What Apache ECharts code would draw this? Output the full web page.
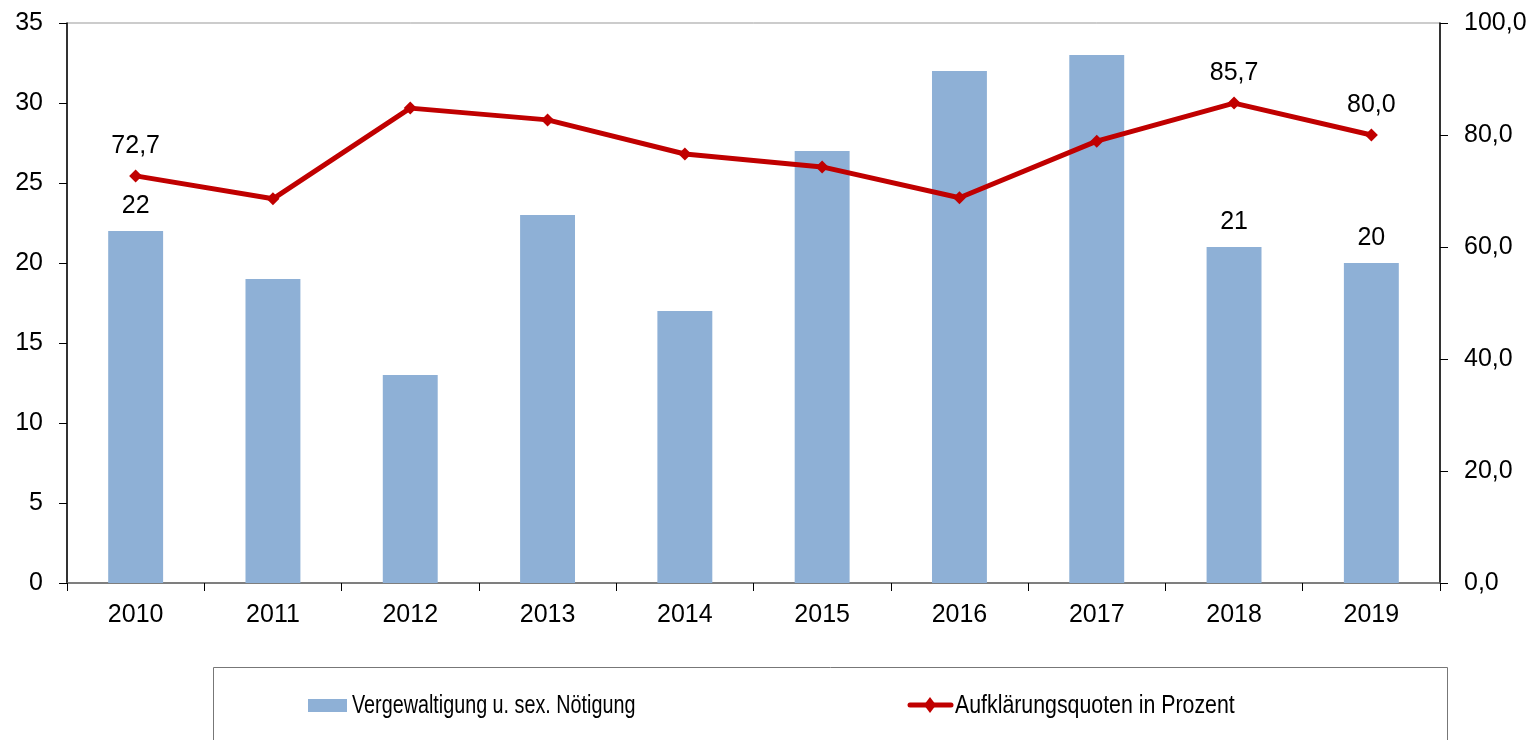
<!DOCTYPE html>
<html>
<head>
<meta charset="utf-8">
<script src="https://cdn.jsdelivr.net/npm/echarts@6/dist/echarts.min.js"></script>
<style>
    html, body {margin: 0; padding: 0; background: #fff;}
    #chart {width: 1534px; height: 740px;}
</style>
</head>
<body>
<div id="chart"></div>
<script>
// Jahre
var years = ['2010', '2011', '2012', '2013', '2014', '2015', '2016', '2017', '2018', '2019'];
// Fälle
var cases = [22, 19, 13, 23, 17, 27, 32, 33, 21, 20];
// Aufklärungsquote in %
var quote = [72.7, 68.6, 84.8, 82.7, 76.6, 74.3, 68.8, 78.9, 85.7, 80.0];
// nur diese Punkte haben ein Label
var labelled = [0, 8, 9];

var barName = 'Vergewaltigung u. sex. Nötigung';
var lineName = 'Aufklärungsquoten in Prozent';

var barColor = '#8EB0D6';
var lineColor = '#C00000';

function komma(v) {
    return Number(v).toFixed(1).replace('.', ',');
}

var barData = cases.map(function (v, i) {
    return {value: v, label: {show: labelled.indexOf(i) >= 0}};
});
var lineData = quote.map(function (v, i) {
    return {value: v, label: {show: labelled.indexOf(i) >= 0}};
});

var txt = {color: '#000', fontSize: 25, fontFamily: 'Liberation Sans, Arial, sans-serif'};

// Legende (Text schmal wie im Original)
var legendFont = '26px "Liberation Sans", Arial, sans-serif';
var legendGraphic = [
    {type: 'rect', shape: {x: 213.5, y: 667.5, width: 1234, height: 100},
        style: {fill: 'none', stroke: '#777', lineWidth: 1}},
    {type: 'rect', shape: {x: 308, y: 699, width: 39, height: 13}, style: {fill: barColor}},
    {type: 'text', x: 352, y: 706, scaleX: 0.76,
        style: {text: barName, font: legendFont, fill: '#000', textVerticalAlign: 'middle'}},
    {type: 'line', shape: {x1: 910, y1: 705, x2: 951, y2: 705},
        style: {stroke: lineColor, lineWidth: 5, lineCap: 'round'}},
    {type: 'polygon', shape: {points: [[930, 697], [936, 705], [930, 713], [924, 705]]},
        style: {fill: lineColor}},
    {type: 'text', x: 955, y: 706, scaleX: 0.82,
        style: {text: lineName, font: legendFont, fill: '#000', textVerticalAlign: 'middle'}}
];

var myChart = echarts.init(document.getElementById('chart'));
myChart.setOption({
    animation: false,
    grid: {left: 67, right: 94, top: 23, bottom: 157, show: true, borderColor: '#999', borderWidth: 1},
    graphic: legendGraphic,
    xAxis: {
        type: 'category',
        data: years,
        axisLine: {lineStyle: {color: '#666', width: 1.5}},
        axisTick: {show: true, length: 8, lineStyle: {color: '#000'}},
        axisLabel: Object.assign({margin: 20}, txt)
    },
    yAxis: [{
        type: 'value',
        min: 0, max: 35, interval: 5,
        axisLine: {show: true, lineStyle: {color: '#000', width: 1.5}},
        axisTick: {show: true, length: 8, lineStyle: {color: '#000'}},
        splitLine: {show: false},
        axisLabel: Object.assign({margin: 24}, txt)
    }, {
        type: 'value',
        min: 0, max: 100, interval: 20,
        position: 'right',
        axisLine: {show: true, lineStyle: {color: '#000', width: 1.5}},
        axisTick: {show: true, length: 8, lineStyle: {color: '#000'}},
        splitLine: {show: false},
        axisLabel: Object.assign({margin: 24, formatter: komma}, txt)
    }],
    series: [{
        name: barName,
        type: 'bar',
        yAxisIndex: 0,
        barWidth: '40%',
        itemStyle: {color: barColor},
        label: Object.assign({position: 'top', distance: 12}, txt),
        data: barData
    }, {
        name: lineName,
        type: 'line',
        yAxisIndex: 1,
        symbol: 'diamond',
        symbolSize: 13,
        lineStyle: {color: lineColor, width: 5},
        itemStyle: {color: lineColor},
        label: Object.assign({position: 'top', distance: 11, formatter: function (p) {
            return komma(p.value);
        }}, txt),
        data: lineData,
        z: 5
    }]
});
</script>
</body>
</html>
